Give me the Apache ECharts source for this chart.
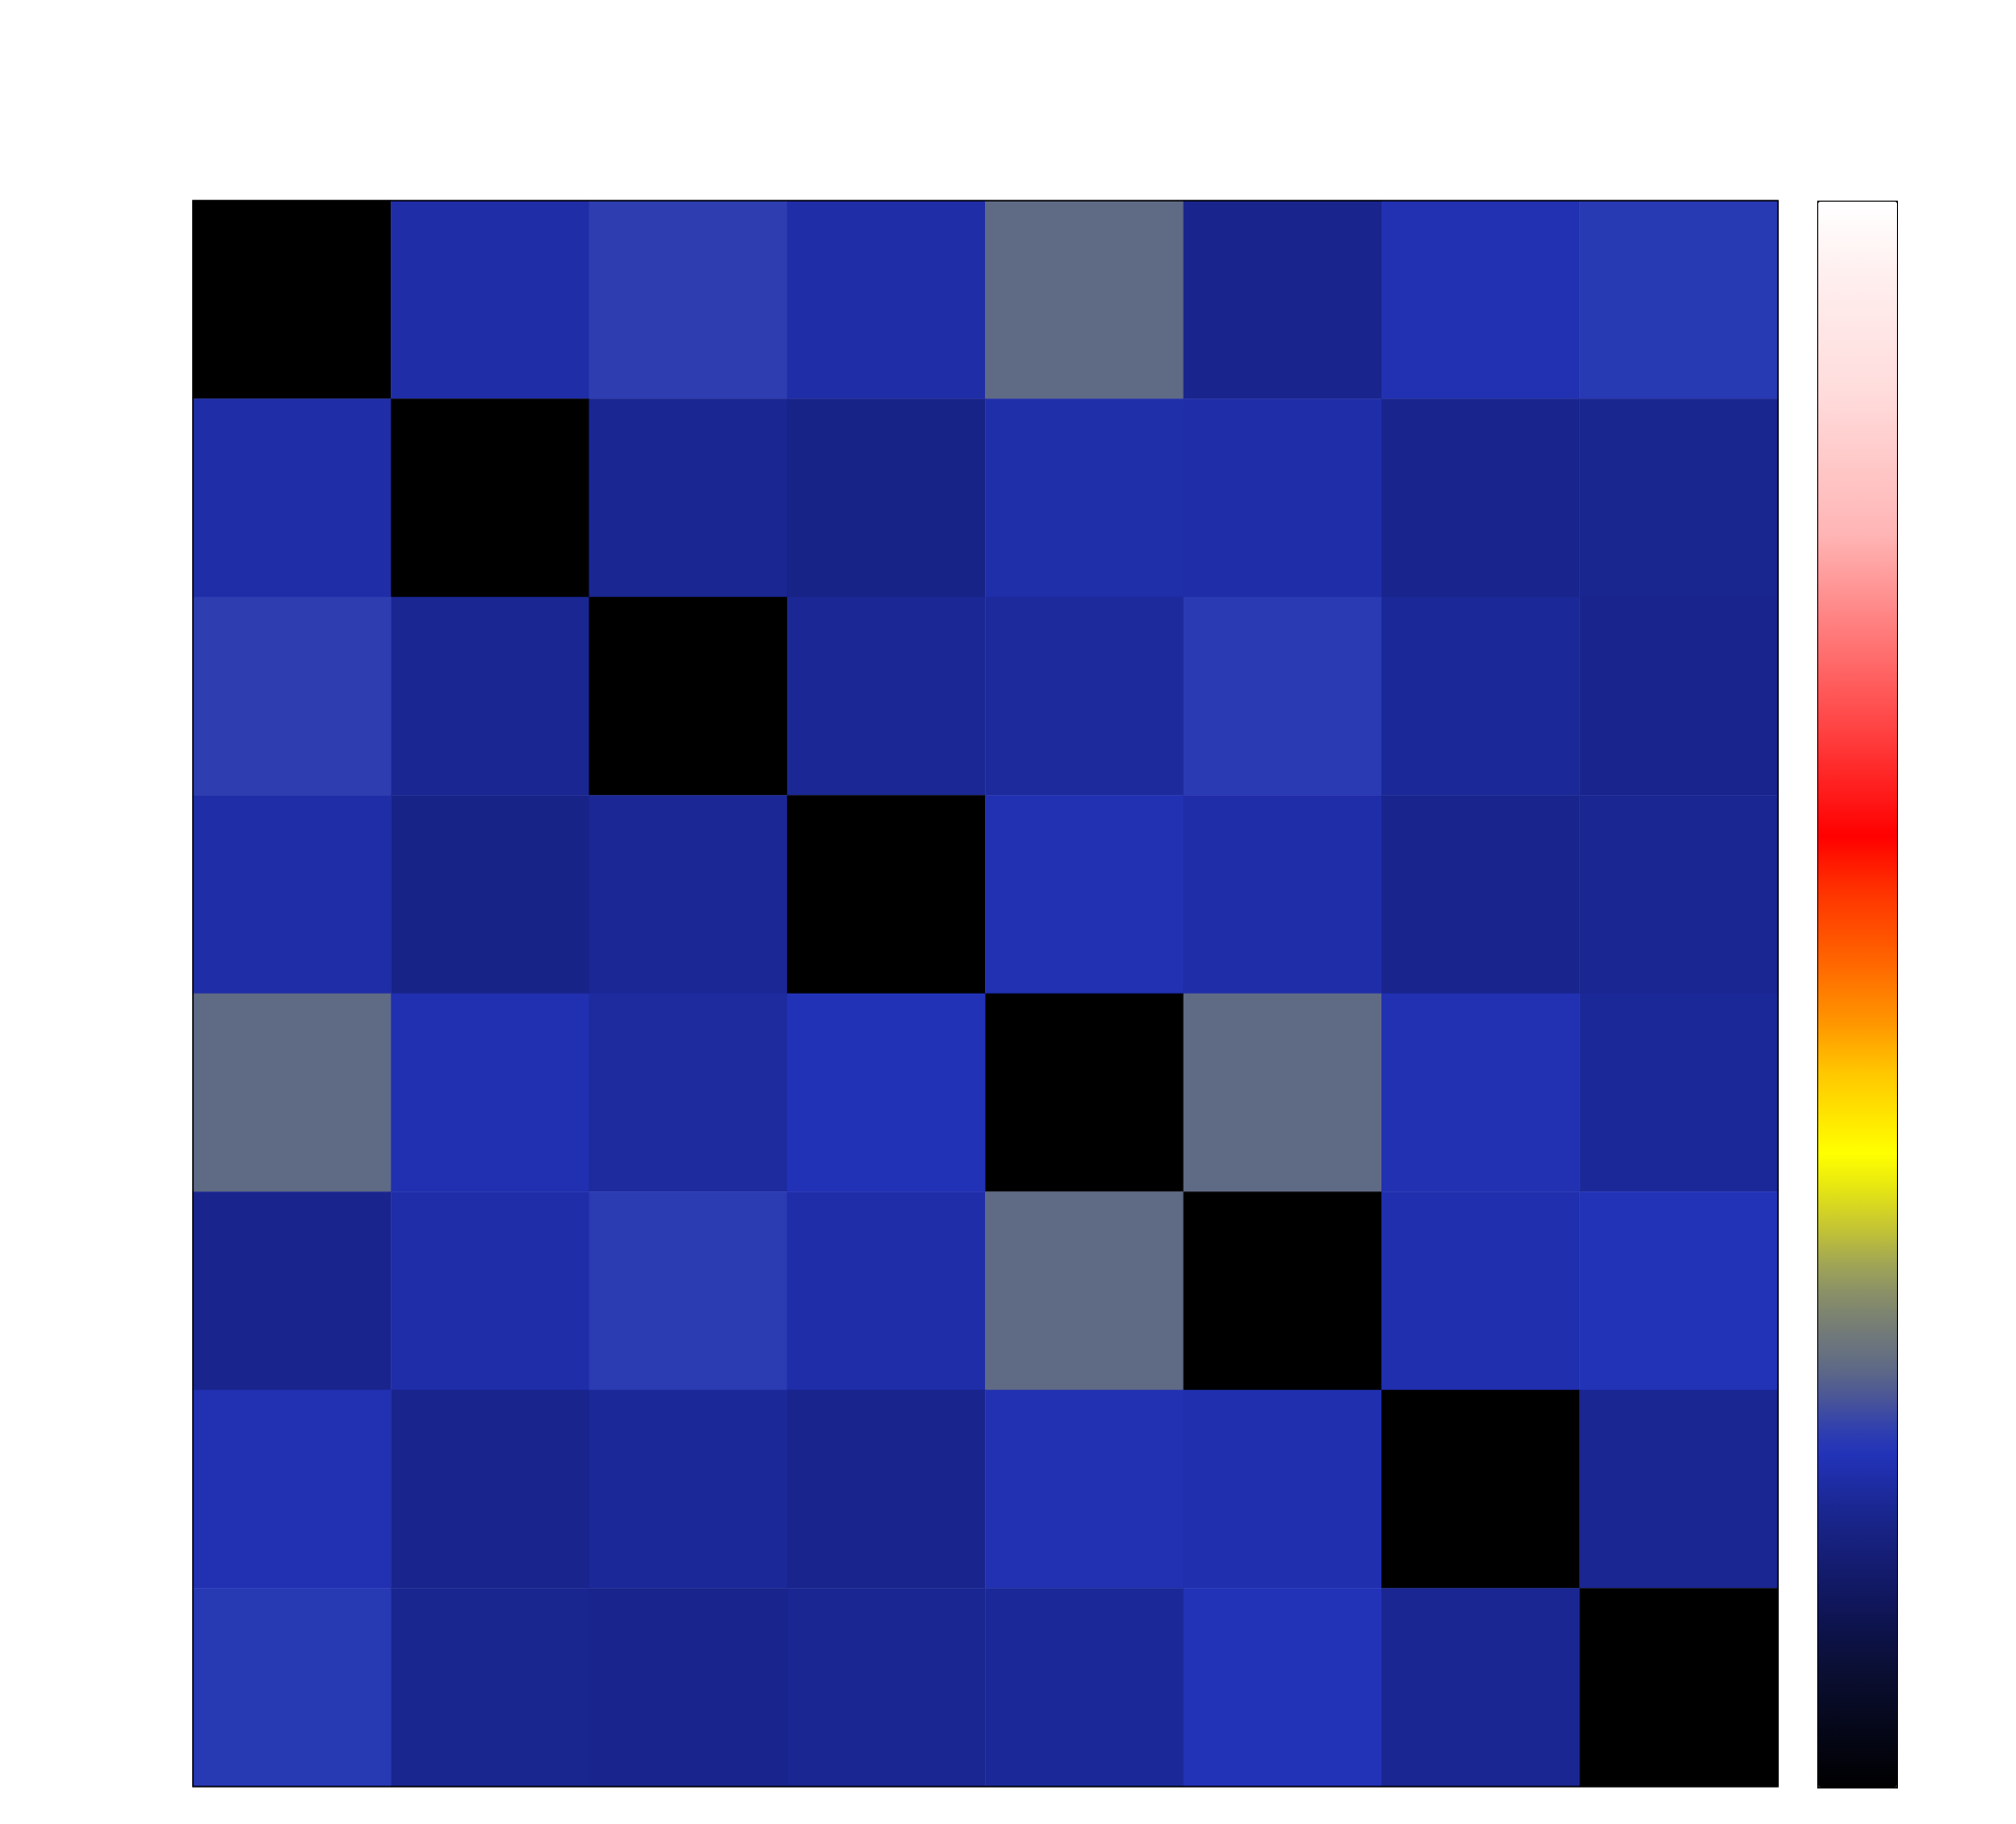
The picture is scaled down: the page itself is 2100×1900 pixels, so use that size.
<!DOCTYPE html>
<html>
<head>
<meta charset="utf-8">
<script src="https://cdn.jsdelivr.net/npm/echarts@6/dist/echarts.min.js"></script>
<style>
  html, body { margin: 0; padding: 0; background: #fff; }
  #main { width: 2100px; height: 1900px; }
</style>
</head>
<body>
<div id="main"></div>
<script>
  // 8 x 8 matrix, row 0 at top
  const labels = ['0', '1', '2', '3', '4', '5', '6', '7']
  const row0 = [0, 0.195, 0.225, 0.195, 0.265, 0.172, 0.205, 0.218]
  const row1 = [0.195, 0, 0.176, 0.166, 0.197, 0.196, 0.172, 0.174]
  const row2 = [0.225, 0.176, 0, 0.178, 0.186, 0.22, 0.182, 0.172]
  const row3 = [0.195, 0.166, 0.178, 0, 0.205, 0.196, 0.172, 0.176]
  const row4 = [0.265, 0.203, 0.188, 0.208, 0, 0.265, 0.205, 0.182]
  const row5 = [0.172, 0.196, 0.221, 0.196, 0.265, 0, 0.2, 0.21]
  const row6 = [0.205, 0.172, 0.182, 0.172, 0.205, 0.2, 0, 0.176]
  const row7 = [0.218, 0.174, 0.172, 0.176, 0.182, 0.21, 0.176, 0]
  const rows = [row0, row1, row2, row3, row4, row5, row6, row7]

  // colour map stops (position, colour): black -> blue -> grey -> yellow -> red -> white
  const stops = [
    [0.00, '#000000'], [0.07, '#0a0e30'], [0.105, '#0e1450'], [0.14, '#141c70'],
    [0.175, '#1a2690'], [0.21, '#2233b8'], [0.225, '#2e3eb0'], [0.245, '#4a5598'],
    [0.265, '#5f6a85'], [0.285, '#70787a'], [0.31, '#888e68'], [0.33, '#a0a555'],
    [0.355, '#c8c830'], [0.38, '#e8e810'], [0.40, '#ffff00'], [0.45, '#ffc800'],
    [0.48, '#ff9900'], [0.52, '#ff6600'], [0.565, '#ff3300'], [0.60, '#ff0000'],
    [0.67, '#ff4545'], [0.74, '#ff8585'], [0.79, '#ffb5b5'], [0.88, '#ffdcdc'],
    [0.95, '#ffeeee'], [1.00, '#ffffff']
  ]

  function hex2rgb (h) {
    return [parseInt(h.slice(1, 3), 16), parseInt(h.slice(3, 5), 16), parseInt(h.slice(5, 7), 16)]
  }
  // evenly spaced lookup table for visualMap
  let lut = []
  for (let i = 0; i <= 200; i++) {
    let t = i / 200
    let k = 0
    while (k < stops.length - 2 && t > stops[k + 1][0]) k++
    let a = stops[k], b = stops[k + 1]
    let f = (t - a[0]) / (b[0] - a[0])
    let ca = hex2rgb(a[1]), cb = hex2rgb(b[1])
    let c = ca.map((v, j) => Math.round(v + (cb[j] - v) * f))
    lut.push('rgb(' + c.join(',') + ')')
  }

  let data = []
  for (let r = 0; r < rows.length; r++) {
    for (let c = 0; c < rows[r].length; c++) {
      data.push([c, r, rows[r][c]])
    }
  }

  let chart = echarts.init(document.getElementById('main'))
  let option = {
    backgroundColor: '#fff',
    animation: false,
    grid: {
      left: 201,
      top: 209,
      width: 1651,
      height: 1652,
      show: true,
      borderColor: '#000',
      borderWidth: 1.5,
      z: 10
    },
    xAxis: {
      type: 'category',
      data: labels,
      axisLine: { show: false },
      axisTick: { show: false },
      axisLabel: { show: false },
      splitLine: { show: false }
    },
    yAxis: {
      type: 'category',
      data: labels,
      inverse: true,
      axisLine: { show: false },
      axisTick: { show: false },
      axisLabel: { show: false },
      splitLine: { show: false }
    },
    visualMap: {
      type: 'continuous',
      min: 0,
      max: 1,
      calculable: false,
      left: 1893,
      top: 209,
      itemWidth: 82,
      itemHeight: 1652,
      padding: 0,
      borderColor: '#000',
      borderWidth: 2,
      inRange: { color: lut }
    },
    series: [{
      type: 'heatmap',
      data: data,
      itemStyle: { borderWidth: 0 },
      emphasis: { disabled: true }
    }]
  }
  chart.setOption(option)
</script>
</body>
</html>
